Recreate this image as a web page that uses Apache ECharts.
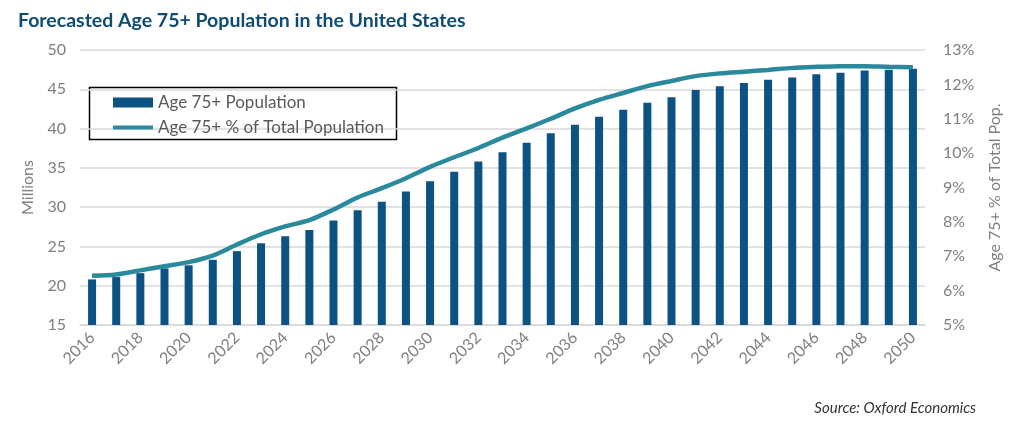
<!DOCTYPE html>
<html>
<head>
<meta charset="utf-8">
<title>Forecasted Age 75+ Population</title>
<script src="https://cdn.jsdelivr.net/npm/echarts@6/dist/echarts.min.js"></script>
<style>
  html, body { margin: 0; padding: 0; background: #fff; }
  #main { width: 1024px; height: 422px; }
</style>
</head>
<body>
<div id="main"></div>
<script>
// data
var years = ['2016','2017','2018','2019','2020','2021','2022','2023','2024','2025',
  '2026','2027','2028','2029','2030','2031','2032','2033','2034','2035',
  '2036','2037','2038','2039','2040','2041','2042','2043','2044','2045',
  '2046','2047','2048','2049','2050'];
// millions
var pop75 = [20.8, 21.1, 21.6, 22.2, 22.6, 23.3, 24.4, 25.4, 26.3, 27.1,
  28.3, 29.6, 30.7, 32.0, 33.3, 34.5, 35.8, 37.0, 38.2, 39.4,
  40.5, 41.5, 42.4, 43.3, 44.0, 44.9, 45.4, 45.8, 46.2, 46.5,
  46.9, 47.1, 47.4, 47.5, 47.6];
// percent of total population
var pct75 = [6.43, 6.47, 6.59, 6.71, 6.83, 7.02, 7.34, 7.64, 7.87, 8.05,
  8.36, 8.71, 8.98, 9.27, 9.6, 9.88, 10.15, 10.45, 10.72, 11.0,
  11.3, 11.55, 11.75, 11.95, 12.1, 12.24, 12.32, 12.37, 12.42, 12.48,
  12.51, 12.53, 12.53, 12.51, 12.5];

var grey = '#7f7f7f';
var fontName = 'Lato';
// thin bar used as legend icon for the line (box kept 40x10 by the corner points)
var lineIcon = 'path://M0,0 L0.01,0 M0,10 L0.01,10 M0,3 L40,3 L40,7 L0,7 Z';

var myChart = echarts.init(document.getElementById('main'));
var option = {
    animation: false,
    title: {
        text: 'Forecasted Age 75+ Population in the United States',
        left: 13,
        top: 6,
        textStyle: { fontFamily: fontName, fontSize: 19.5, fontWeight: 'bold', color: '#0f4c75' }
    },
    grid: { left: 80, right: 99, top: 50, bottom: 97, containLabel: false },
    legend: {
        orient: 'vertical',
        left: 108,
        top: 89,
        itemWidth: 40,
        itemHeight: 10,
        itemGap: 8,
        textStyle: { fontFamily: fontName, fontSize: 17, color: '#595959' },
        data: [
            { name: 'Age 75+ Population', icon: 'rect' },
            { name: 'Age 75+ % of Total Population', icon: lineIcon }
        ]
    },
    graphic: [
        {
            type: 'rect',
            shape: { x: 89.5, y: 87.5, width: 307, height: 52 },
            style: { fill: '#fff', stroke: '#000', lineWidth: 1.5 },
            z: 0, zlevel: 0
        },
        {
            type: 'text',
            right: 48,
            top: 401,
            style: { text: 'Source: Oxford Economics', fontFamily: fontName, fontSize: 15, fontStyle: 'italic', fill: '#333' }
        }
    ],
    xAxis: {
        type: 'category',
        data: years,
        axisTick: { show: false },
        axisLine: { lineStyle: { color: '#d9d9d9', width: 1.5 } },
        axisLabel: { interval: 1, rotate: 45, color: grey, fontFamily: fontName, fontSize: 16, margin: 10 }
    },
    yAxis: [
        {
            type: 'value',
            min: 15, max: 50, interval: 5,
            name: 'Millions',
            nameLocation: 'middle',
            nameGap: 44,
            nameTextStyle: { color: grey, fontFamily: fontName, fontSize: 16 },
            axisLabel: { color: grey, fontFamily: fontName, fontSize: 16, margin: 14 },
            axisLine: { show: false },
            axisTick: { show: false },
            splitLine: { lineStyle: { color: '#d9d9d9', width: 1.5 } }
        },
        {
            type: 'value',
            min: 5, max: 13, interval: 1,
            name: 'Age 75+ % of Total Pop.',
            nameLocation: 'middle',
            nameGap: 62,
            nameTextStyle: { color: grey, fontFamily: fontName, fontSize: 16 },
            axisLabel: { color: grey, fontFamily: fontName, fontSize: 16, margin: 18, formatter: '{value}%' },
            axisLine: { show: false },
            axisTick: { show: false },
            splitLine: { show: false }
        }
    ],
    series: [
        {
            name: 'Age 75+ Population',
            type: 'bar',
            yAxisIndex: 0,
            barWidth: 8,
            itemStyle: { color: '#0c5282' },
            data: pop75,
            z: 2
        },
        {
            name: 'Age 75+ % of Total Population',
            type: 'line',
            yAxisIndex: 1,
            smooth: 0.3,
            symbol: 'none',
            lineStyle: { width: 4.5, color: '#2a8a9b' },
            itemStyle: { color: '#2a8a9b' },
            data: pct75,
            z: 3
        }
    ]
};
myChart.setOption(option);
</script>
</body>
</html>
